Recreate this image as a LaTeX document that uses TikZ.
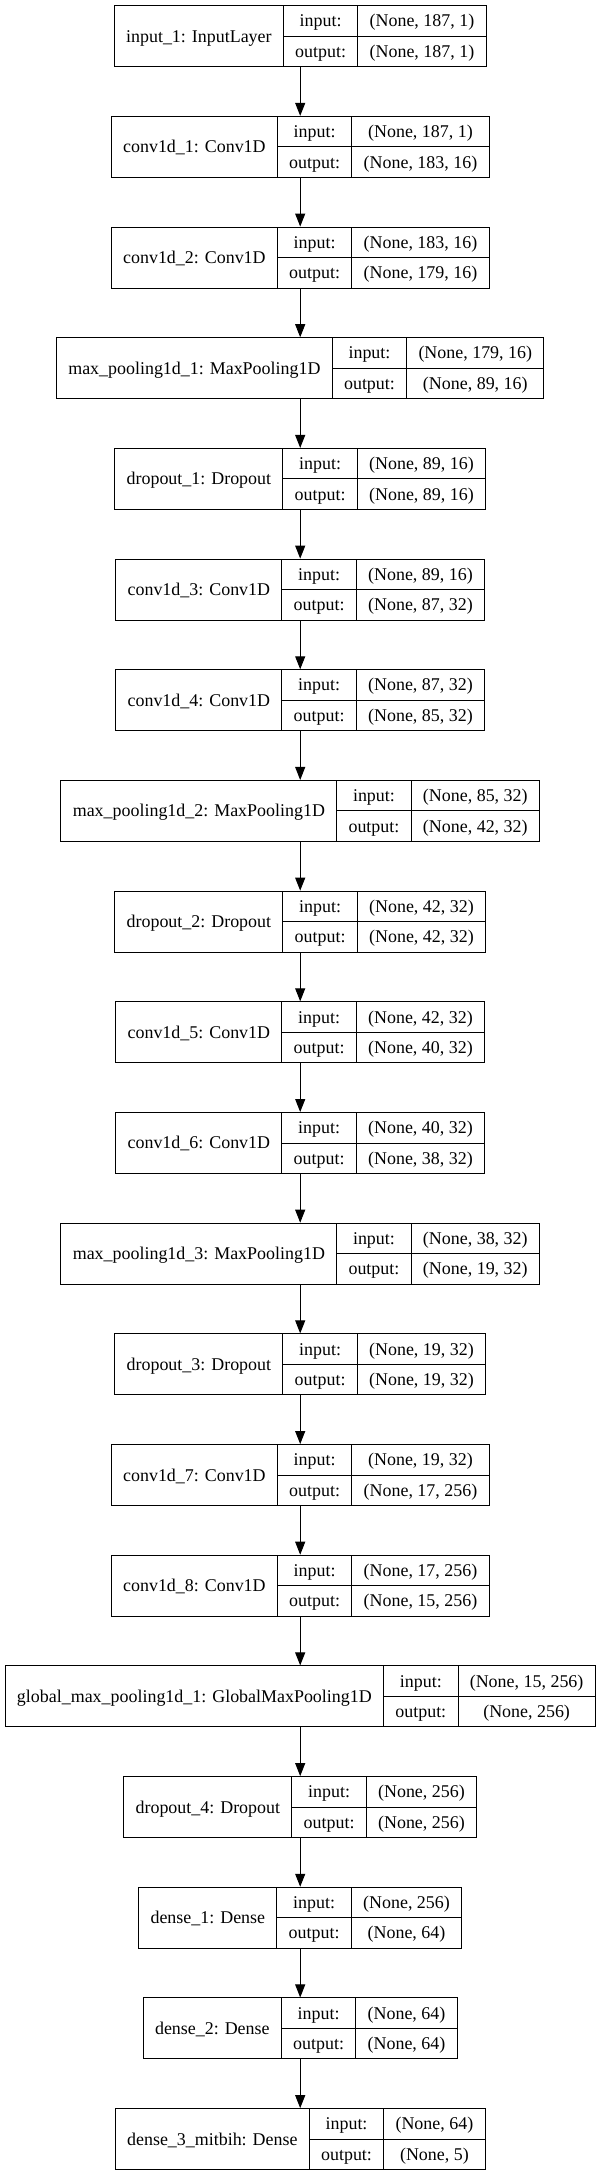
\documentclass[tikz,border=0pt]{standalone}
\usepackage{fontspec}
\setmainfont{Liberation Serif}
\usetikzlibrary{arrows.meta}
\newlength\lwA \newlength\lwB \newlength\lwC \newlength\lwD
\newcommand\lfont{\fontsize{17.94}{20}\selectfont}
\def\padx{11.8}
\tikzset{
  layerbox/.style={draw=black, line width=1pt, rectangle, inner sep=0pt, minimum height=61pt},
  divider/.style={draw=black, line width=1pt},
  txt/.style={inner sep=0pt, font=\lfont, text height=11.9pt, text depth=0pt, anchor=center},
  edge/.style={draw=black, line width=1pt, -{Triangle[length=13pt,width=10pt]}}
}
% pass 1: measure (outside the picture)
\newcommand\prepLayer[5]{%
  \settowidth\lwA{\lfont #3}%
  \settowidth\lwB{\lfont output:}%
  \settowidth\lwC{\lfont #4}%
  \settowidth\lwD{\lfont #5}%
  \ifdim\lwD>\lwC \lwC=\lwD\fi
  \expandafter\xdef\csname wa#1\endcsname{\the\lwA}%
  \expandafter\xdef\csname wb#1\endcsname{\the\lwB}%
  \expandafter\xdef\csname wc#1\endcsname{\the\lwC}%
}
% pass 2: draw (inside the picture)
\newcommand\drawLayer[5]{%
  \pgfmathsetmacro\wa{\csname wa#1\endcsname+2*\padx}%
  \pgfmathsetmacro\wb{\csname wb#1\endcsname+2*\padx}%
  \pgfmathsetmacro\wc{\csname wc#1\endcsname+2*\padx}%
  \pgfmathsetmacro\tot{\wa+\wb+\wc}%
  \pgfmathsetmacro\xl{300.2-\tot/2}%
  \pgfmathsetmacro\yc{36.2+110.68*#2}%
  \node[layerbox, minimum width=\tot pt] (#1) at (300.2,\yc) {};
  \draw[divider] (\xl+\wa,\yc-30.5) -- (\xl+\wa,\yc+30.5);
  \draw[divider] (\xl+\wa+\wb,\yc-30.5) -- (\xl+\wa+\wb,\yc+30.5);
  \draw[divider] (\xl+\wa,\yc) -- (\xl+\tot,\yc);
  \node[txt] (#1-name) at (\xl+\wa/2,\yc) {#3};
  \node[txt] (#1-il) at (\xl+\wa+\wb/2,\yc-15.25) {input:};
  \node[txt] (#1-ol) at (\xl+\wa+\wb/2,\yc+15.25) {output:};
  \node[txt] (#1-iv) at (\xl+\wa+\wb+\wc/2,\yc-15.25) {#4};
  \node[txt] (#1-ov) at (\xl+\wa+\wb+\wc/2,\yc+15.25) {#5};
}
\newcommand\layerlist{%
\L{L0}{0}{input\_1: InputLayer}{(None, 187, 1)}{(None, 187, 1)}
\L{L1}{1}{conv1d\_1: Conv1D}{(None, 187, 1)}{(None, 183, 16)}
\L{L2}{2}{conv1d\_2: Conv1D}{(None, 183, 16)}{(None, 179, 16)}
\L{L3}{3}{max\_pooling1d\_1: MaxPooling1D}{(None, 179, 16)}{(None, 89, 16)}
\L{L4}{4}{dropout\_1: Dropout}{(None, 89, 16)}{(None, 89, 16)}
\L{L5}{5}{conv1d\_3: Conv1D}{(None, 89, 16)}{(None, 87, 32)}
\L{L6}{6}{conv1d\_4: Conv1D}{(None, 87, 32)}{(None, 85, 32)}
\L{L7}{7}{max\_pooling1d\_2: MaxPooling1D}{(None, 85, 32)}{(None, 42, 32)}
\L{L8}{8}{dropout\_2: Dropout}{(None, 42, 32)}{(None, 42, 32)}
\L{L9}{9}{conv1d\_5: Conv1D}{(None, 42, 32)}{(None, 40, 32)}
\L{L10}{10}{conv1d\_6: Conv1D}{(None, 40, 32)}{(None, 38, 32)}
\L{L11}{11}{max\_pooling1d\_3: MaxPooling1D}{(None, 38, 32)}{(None, 19, 32)}
\L{L12}{12}{dropout\_3: Dropout}{(None, 19, 32)}{(None, 19, 32)}
\L{L13}{13}{conv1d\_7: Conv1D}{(None, 19, 32)}{(None, 17, 256)}
\L{L14}{14}{conv1d\_8: Conv1D}{(None, 17, 256)}{(None, 15, 256)}
\L{L15}{15}{global\_max\_pooling1d\_1: GlobalMaxPooling1D}{(None, 15, 256)}{(None, 256)}
\L{L16}{16}{dropout\_4: Dropout}{(None, 256)}{(None, 256)}
\L{L17}{17}{dense\_1: Dense}{(None, 256)}{(None, 64)}
\L{L18}{18}{dense\_2: Dense}{(None, 64)}{(None, 64)}
\L{L19}{19}{dense\_3\_mitbih: Dense}{(None, 64)}{(None, 5)}
}
\begin{document}
\let\L\prepLayer\layerlist
\begin{tikzpicture}[x=1pt, y=-1pt]
\useasboundingbox (0,0) rectangle (601,2176);
\fill[white] (0,0) rectangle (601,2176);
\let\L\drawLayer\layerlist
\foreach \i [evaluate=\i as \j using int(\i+1)] in {0,...,18}
  \draw[edge] (L\i.south) -- (L\j.north);
\end{tikzpicture}
\end{document}
